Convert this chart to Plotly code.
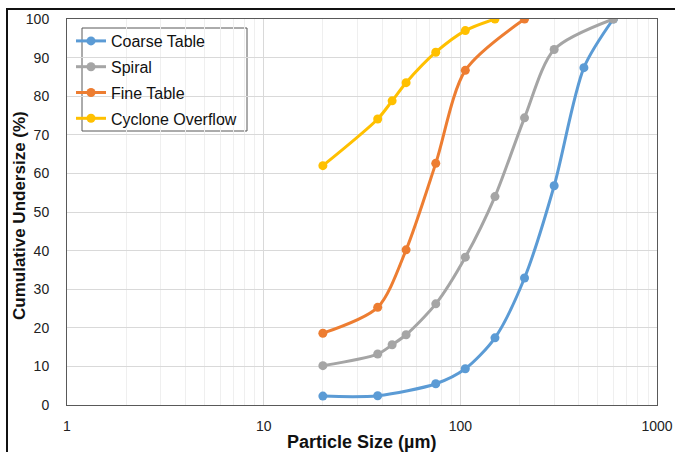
import plotly.graph_objects as go

coarse_x = [20, 38, 75, 106, 150, 212, 300, 425, 600]
coarse_y = [2.3, 2.4, 5.5, 9.4, 17.4, 32.9, 56.8, 87.4, 100]

spiral_x = [20, 38, 45, 53, 75, 106, 150, 212, 300, 600]
spiral_y = [10.2, 13.2, 15.6, 18.2, 26.2, 38.3, 54.0, 74.4, 92.1, 100]

fine_x = [20, 38, 53, 75, 106, 212]
fine_y = [18.6, 25.3, 40.2, 62.6, 86.7, 100]

cyclone_x = [20, 38, 45, 53, 75, 106, 150]
cyclone_y = [62.0, 74.1, 78.8, 83.5, 91.4, 97.0, 100]

series = [
    ("Coarse Table", coarse_x, coarse_y, "#5B9BD5"),
    ("Spiral", spiral_x, spiral_y, "#A5A5A5"),
    ("Fine Table", fine_x, fine_y, "#ED7D31"),
    ("Cyclone Overflow", cyclone_x, cyclone_y, "#FFC000"),
]

x_tickvals = [1, 10, 100, 1000]
x_ticktext = ["1", "10", "100", "1000"]
y_tickvals = list(range(0, 101, 10))

x_title = "Particle Size (µm)"
y_title = "Cumulative Undersize (%)"

W, H = 675, 452
PL, PT, PR, PB = 67, 19, 657, 405
PW, PH = PR - PL, PB - PT


def px(xw):
    return (xw - PL) / PW


def py(yw):
    return (PB - yw) / PH


fig = go.Figure()
for i, (name, xs, ys, color) in enumerate(series):
    fig.add_trace(go.Scatter(
        x=xs, y=ys, name=name, mode="lines+markers",
        line=dict(color=color, width=3, shape="spline", smoothing=0.8),
        marker=dict(color=color, size=9),
        legendgroup=f"g{i}",
    ))

font_family = "Liberation Sans, Arial, sans-serif"

fig.update_layout(
    width=W, height=H,
    margin=dict(l=PL, r=W - PR, t=PT, b=H - PB, autoexpand=False),
    paper_bgcolor="white", plot_bgcolor="white",
    font=dict(family=font_family, size=14, color="#222222"),
    showlegend=True,
    legend=dict(
        x=px(71), y=py(24), xanchor="left", yanchor="top",
        bgcolor="rgba(0,0,0,0)", borderwidth=0,
        font=dict(family=font_family, size=16, color="#111111"),
        traceorder="grouped", tracegroupgap=2,
        itemwidth=30,
    ),
    xaxis=dict(
        type="log", range=[0, 3], automargin=False,
        tickvals=x_tickvals, ticktext=x_ticktext,
        showgrid=True, gridcolor="#d9d9d9", gridwidth=1,
        minor=dict(dtick="D1", showgrid=True, gridcolor="#efefef", gridwidth=1, ticks=""),
        showline=True, linecolor="#595959", linewidth=1, mirror=True,
        ticks="", ticklabelstandoff=8,
        tickfont=dict(size=14, color="#222222"),
        zeroline=False,
    ),
    yaxis=dict(
        range=[0, 100], tickvals=y_tickvals, automargin=False,
        showgrid=True, gridcolor="#d9d9d9", gridwidth=1,
        showline=True, linecolor="#595959", linewidth=1, mirror=True,
        ticks="", ticklabelstandoff=14,
        tickfont=dict(size=14, color="#222222"),
        zeroline=False,
    ),
)

# legend frame
fig.add_shape(type="rect", xref="paper", yref="paper", layer="below",
              x0=px(82), x1=px(247), y0=py(131), y1=py(28),
              line=dict(color="#595959", width=1), fillcolor="white")

# axis titles
fig.add_annotation(text=f"<b>{x_title}</b>", xref="paper", yref="paper",
                   x=px(361), y=py(442),
                   xanchor="center", yanchor="middle", showarrow=False,
                   font=dict(size=18, color="#111111", family=font_family))
fig.add_annotation(text=f"<b>{y_title}</b>", xref="paper", yref="paper",
                   x=px(19), y=py(216), textangle=-90,
                   xanchor="center", yanchor="middle", showarrow=False,
                   font=dict(size=17, color="#111111", family=font_family))

# outer frame lines (top and left) seen in the reference
fig.add_shape(type="rect", xref="paper", yref="paper",
              x0=px(6), x1=px(675), y0=py(10), y1=py(8),
              line=dict(width=0), fillcolor="#111111")
fig.add_shape(type="rect", xref="paper", yref="paper",
              x0=px(6), x1=px(8), y0=py(8), y1=py(452),
              line=dict(width=0), fillcolor="#111111")

post = (
    "document.body.style.margin='0px';"
    "document.body.style.overflow='hidden';"
    "var d=document.createElement('div');"
    "d.style.cssText='position:absolute;left:6px;top:8px;width:669px;height:2px;"
    "background:#111;z-index:1000;pointer-events:none;';"
    "document.body.appendChild(d);"
)

fig.write_html(
    "out.html",
    config={"displayModeBar": False},
    post_script=post,
)
